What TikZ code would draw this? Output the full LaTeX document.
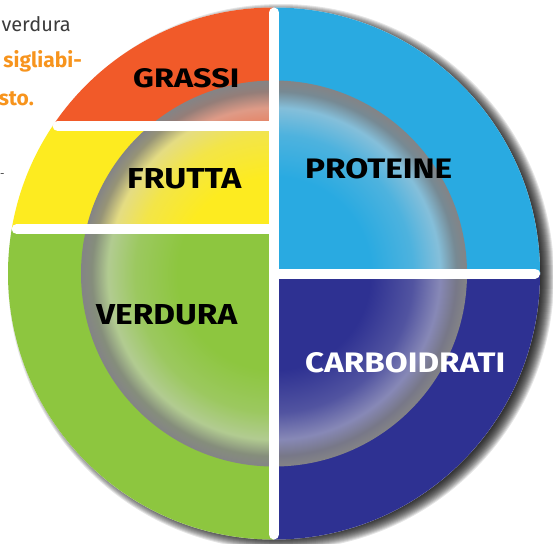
\documentclass[tikz,border=0pt]{standalone}
\usepackage{fontspec}
\setmainfont{Fira Sans}
\usepackage{graphicx}
\definecolor{cGrassi}{RGB}{241,90,41}
\definecolor{cFrutta}{RGB}{253,235,32}
\definecolor{cVerdura}{RGB}{141,198,63}
\definecolor{cProteine}{RGB}{41,170,225}
\definecolor{cCarbo}{RGB}{46,49,146}
\definecolor{lgray}{RGB}{208,208,212}
\definecolor{dgray}{RGB}{132,132,134}
\definecolor{txtgray}{RGB}{60,60,60}
\definecolor{txtorange}{RGB}{247,148,29}
\newcommand\platedefshade[2]{%
  \colorlet{#1A}{#2!78!lgray}\colorlet{#1B}{#2!45!lgray}\colorlet{#1C}{#2!15!dgray}%
  \pgfdeclareradialshading{#1}{\pgfpointorigin}{color(0bp)=(#2); color(12.5bp)=(#2); color(18bp)=(#1A); color(21.5bp)=(#1B); color(23.6bp)=(#1C); color(25bp)=(dgray); color(50bp)=(dgray)}}
\platedefshade{shGrassi}{cGrassi}
\platedefshade{shFrutta}{cFrutta}
\platedefshade{shVerdura}{cVerdura}
\platedefshade{shProteine}{cProteine}
\platedefshade{shCarbo}{cCarbo}
\tikzset{
  gapbar/.style={white, line width=10pt, line cap=round},
  lbl/.style={anchor=base west, inner sep=0pt, font=\bfseries},
  sidetext/.style={anchor=base east, inner sep=0pt},
}
\begin{document}
\begin{tikzpicture}[x=1pt,y=-1pt]
\useasboundingbox (0,0) rectangle (553,543);
\clip (0,0) rectangle (553,543);
\fill[white] (0,0) rectangle (553,543);
% side text
\node[sidetext, text=txtgray, font=\fontsize{20}{24}\selectfont] (t1) at (71,32) {verdura};
\node[sidetext, text=txtorange, font=\fontsize{21}{25}\selectfont\bfseries] (t2) at (82,67) {sigliabi-};
\node[sidetext, text=txtorange, font=\fontsize{21}{25}\selectfont\bfseries] (t3) at (34,105) {sto.};
\node[anchor=base west, inner sep=0pt, text=txtgray, font=\fontsize{11}{13}\selectfont] (t4) at (0,177) {-};
% shadow
\coordinate (S) at (281,277);
\foreach \i in {0,...,13}
  \fill[black, fill opacity=0.1] (S) circle[radius={(273-\i)*1pt}];
% plate
\coordinate (C) at (274,273.5);
\fill[white] (C) circle[radius=266pt];
\begin{scope}
  \clip (C) circle[radius=266pt];
  \begin{scope}
    \clip (0,0) rectangle (274,126);
    \fill[cGrassi] (0,0) rectangle (274,126);
    \shade[shading=shGrassi] (C) circle[radius=193pt];
  \end{scope}
  \begin{scope}
    \clip (0,126) rectangle (274,229);
    \fill[cFrutta] (0,126) rectangle (274,229);
    \shade[shading=shFrutta] (C) circle[radius=193pt];
  \end{scope}
  \begin{scope}
    \clip (0,229) rectangle (274,543);
    \fill[cVerdura] (0,229) rectangle (274,543);
    \shade[shading=shVerdura] (C) circle[radius=193pt];
  \end{scope}
  \begin{scope}
    \clip (274,0) rectangle (553,273.5);
    \fill[cProteine] (274,0) rectangle (553,273.5);
    \shade[shading=shProteine] (C) circle[radius=193pt];
  \end{scope}
  \begin{scope}
    \clip (274,273.5) rectangle (553,543);
    \fill[cCarbo] (274,273.5) rectangle (553,543);
    \shade[shading=shCarbo] (C) circle[radius=193pt];
  \end{scope}
\end{scope}
% white gaps
\coordinate (vTop) at (274,12.5);
\coordinate (vBot) at (274,534.5);
\coordinate (hR) at (535,273.5);
\coordinate (hL1) at (57.6,126);
\coordinate (hM1) at (274,126);
\coordinate (hL2) at (16.7,229);
\coordinate (hM2) at (274,229);
\draw[gapbar] (vTop) -- (vBot);
\draw[gapbar] (C) -- (hR);
\draw[gapbar] (hL1) -- (hM1);
\draw[gapbar] (hL2) -- (hM2);
% labels
\node[lbl] (grassi) at (133,87) {\resizebox{106pt}{19pt}{GRASSI}};
\node[lbl] (frutta) at (127,188) {\resizebox{114pt}{20pt}{FRUTTA}};
\node[lbl] (proteine) at (305,178) {\resizebox{147pt}{20pt}{PROTEINE}};
\node[lbl] (verdura) at (96,324) {\resizebox{141pt}{20pt}{VERDURA}};
\node[lbl, text=white] (carbo) at (305,372) {\resizebox{200pt}{20pt}{CARBOIDRATI}};
\end{tikzpicture}
\end{document}
